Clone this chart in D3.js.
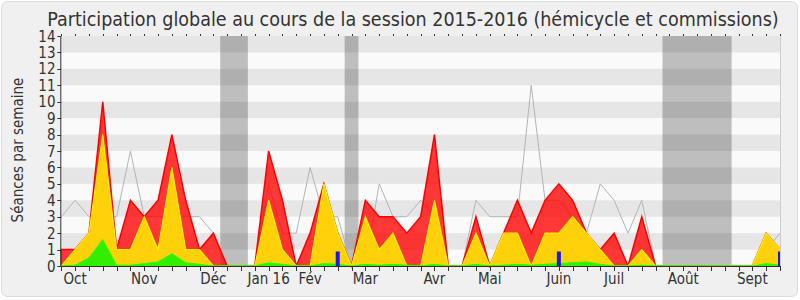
<!DOCTYPE html>
<meta charset="utf-8">
<script src="https://d3js.org/d3.v7.min.js"></script>
<html>
<head>
<style>
body { margin: 0; background: #fff; }
text { font-family: "DejaVu Sans Condensed", "DejaVu Sans"; font-stretch: condensed; fill: #333; }
</style>
</head>
<body>
<svg id="chart" width="800" height="300"></svg>
<script>

// weekly values, week 0 = start of session (Oct 2015)
var presences = [1,1,2,10,1,4,3,4,8,4,1,2,0, 0,0,7,4,0,2,5,2,0,4,3,3,2,3,8,0,0,3,0,2,4,2,4,5,4,2,1,2,0,3,0, 0,0,0,0,0,0,0,2,1];
var participations = [0,1,2,8,1,1,3,1,6,1,1,0,0, 0,0,4,1,0,0,5,2,0,3,1,2,0,0,4,0,0,2,0,2,2,0,2,2,3,2,1,0,0,1,0, 0,0,0,0,0,0,0,2,1];
var interventions = [0,0.05,0.5,1.6,0.05,0.05,0.15,0.25,0.75,0.2,0.1,0,0, 0,0,0.2,0.1,0,0,0.15,0.1,0,0.1,0.05,0.1,0.05,0,0.1,0,0,0.1,0,0.05,0.1,0.05,0.1,0.15,0.2,0.25,0.1,0,0,0.05,0, 0,0,0,0,0,0,0,0.15,0.05];
var mediane = [3,4,3,3,3,7,3,3,3,3,3,2,0, 0,0,5,2,2,6,3,3,0,0,5,3,3,4,3,0,0,4,3,3,3,11,4,4,3,2,5,4,2,4,0, 0,0,0,0,0,0,0,1,2];
var questions = [{w:20, v:1}, {w:36, v:1}, {w:52, v:1}];
var vacances = [[11.5,13.5],[20.5,21.5],[43.5,48.5]];
var mois = [
  {m:"Oct", w:1}, {m:"Nov", w:6}, {m:"Déc", w:11}, {m:"Jan 16", w:15},
  {m:"Fév", w:18}, {m:"Mar", w:22}, {m:"Avr", w:27}, {m:"Mai", w:31},
  {m:"Juin", w:36}, {m:"Juil", w:40}, {m:"Août", w:45}, {m:"Sept", w:50}
];
var yTicks = d3.range(0, 15);

var svg = d3.select("#chart");

// frame
svg.append("rect")
  .attr("x", 1.5).attr("y", 1.5).attr("width", 796).attr("height", 295)
  .attr("rx", 6).attr("fill", "#f0f0f0").attr("stroke", "#dcdcdc");

var x = d3.scaleLinear().domain([0, 52]).range([61.3, 780]);
var y = d3.scaleLinear().domain([0, 14]).range([266, 36]);
var weeks = d3.range(0, 53);

// plot background
svg.append("rect")
  .attr("x", x(0)).attr("y", y(14))
  .attr("width", x(52) - x(0)).attr("height", y(0) - y(14))
  .attr("fill", "#fafafa");

// holidays
svg.append("g").selectAll("rect")
  .data(vacances).enter().append("rect")
    .attr("x", function(d){ return x(d[0]) })
    .attr("width", function(d){ return x(d[1]) - x(d[0]) })
    .attr("y", y(14))
    .attr("height", y(0) - y(14))
    .attr("fill", "#bebebe");

// stripes
svg.append("g").selectAll("rect")
  .data(yTicks.filter(function(d){ return d % 2 == 1 })).enter().append("rect")
    .attr("x", x(0))
    .attr("width", x(52) - x(0))
    .attr("y", function(d){ return y(d + 1) })
    .attr("height", function(d){ return y(d) - y(d + 1) })
    .attr("fill", "#000")
    .attr("fill-opacity", 0.08);

// median line
svg.append("path")
  .datum(mediane)
  .attr("fill", "none")
  .attr("stroke", "#b4b4b4")
  .attr("stroke-width", 1)
  .attr("d", d3.line().x(function(d, i){ return x(i) }).y(function(d){ return y(d) }));

function area(data) {
  return d3.area()
    .x(function(d, i){ return x(i) })
    .y0(y(0))
    .y1(function(d){ return y(d) })(data);
}

svg.append("path")
  .attr("d", area(presences))
  .attr("fill", "#ff0000").attr("fill-opacity", 0.78)
  .attr("stroke", "#ff0000").attr("stroke-width", 1.5);

svg.append("path")
  .attr("d", area(participations))
  .attr("fill", "#ffd10b")
  .attr("stroke", "#ffee00").attr("stroke-width", 1.2);

svg.append("path")
  .attr("d", area(interventions))
  .attr("fill", "#33ee00")
  .attr("stroke", "#22ff00").attr("stroke-width", 1);

// questions
var qh = d3.scaleLinear().domain([0, 1]).range([0, 14.5]);
svg.append("g").selectAll("rect")
  .data(questions).enter().append("rect")
    .attr("x", function(d){ return x(d.w) - 2 })
    .attr("width", function(d){ return d.w == 52 ? 2.5 : 4 })
    .attr("y", function(d){ return y(0) - qh(d.v) })
    .attr("height", function(d){ return qh(d.v) })
    .attr("fill", "#1a1ae0");

// right border
svg.append("line")
  .attr("x1", x(52) + 0.5).attr("x2", x(52) + 0.5)
  .attr("y1", y(14)).attr("y2", y(0))
  .attr("stroke", "#cccccc");

// x axis
var gx = svg.append("g");
gx.append("line")
  .attr("x1", x(0)).attr("x2", x(52))
  .attr("y1", y(0) + 0.5).attr("y2", y(0) + 0.5)
  .attr("stroke", "#3a2a2a").attr("stroke-width", 1.2);
gx.selectAll(".tb").data(weeks).enter().append("line")
  .attr("x1", function(d){ return Math.round(x(d)) + 0.5 })
  .attr("x2", function(d){ return Math.round(x(d)) + 0.5 })
  .attr("y1", y(0)).attr("y2", y(0) + 5)
  .attr("stroke", "#333");
gx.selectAll(".tt").data(weeks).enter().append("line")
  .attr("x1", function(d){ return Math.round(x(d)) + 0.5 })
  .attr("x2", function(d){ return Math.round(x(d)) + 0.5 })
  .attr("y1", y(14) - 2).attr("y2", y(14))
  .attr("stroke", "#333");
gx.selectAll("text").data(mois).enter().append("text")
  .attr("x", function(d){ return x(d.w) })
  .attr("y", 284)
  .attr("text-anchor", "middle")
  .attr("font-size", 15)
  .text(function(d){ return d.m });

// y axis
var gy = svg.append("g");
gy.append("line")
  .attr("x1", x(0) - 0.5).attr("x2", x(0) - 0.5)
  .attr("y1", y(14)).attr("y2", y(0))
  .attr("stroke", "#333");
gy.selectAll("line.t").data(yTicks).enter().append("line")
  .attr("x1", x(0) - 4).attr("x2", x(0))
  .attr("y1", function(d){ return Math.round(y(d)) + 0.5 })
  .attr("y2", function(d){ return Math.round(y(d)) + 0.5 })
  .attr("stroke", "#333");
gy.selectAll("text").data(yTicks).enter().append("text")
  .attr("x", 55.5)
  .attr("y", function(d){ return y(d) + 5.5 })
  .attr("text-anchor", "end")
  .attr("font-size", 15)
  .text(function(d){ return d });

svg.append("text")
  .attr("transform", "translate(23,150) rotate(-90)")
  .attr("text-anchor", "middle")
  .attr("font-size", 15)
  .text("Séances par semaine");

svg.append("text")
  .attr("x", 413).attr("y", 25.5)
  .attr("text-anchor", "middle")
  .attr("font-size", 19.5)
  .text("Participation globale au cours de la session 2015-2016 (hémicycle et commissions)");

</script>
</body>
</html>
